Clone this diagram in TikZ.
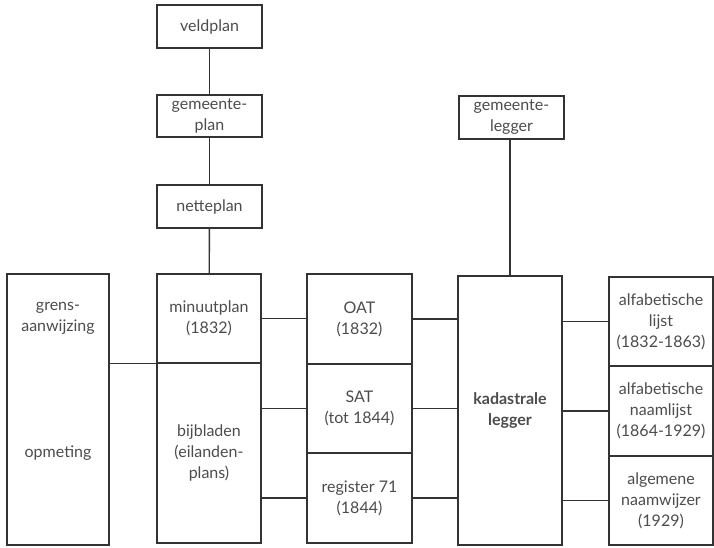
\documentclass[tikz,border=0pt]{standalone}
\usepackage{fontspec}
\setmainfont{Lato}
\begin{document}
\begin{tikzpicture}[x=1pt,y=1pt,
  box/.style={draw=black!80, line width=1.4pt, rectangle, inner sep=0pt, align=center,
    text=black!70, font=\fontsize{16}{21}\selectfont},
  txt/.style={inner sep=0pt, align=center, text=black!70, font=\fontsize{16}{21}\selectfont},
  link/.style={draw=black!80, line width=1.4pt}]
\useasboundingbox (0,0) rectangle (714,547);
% plan column
\node[box, minimum width=105, minimum height=43] (veld) at (209.5,520.5) {veldplan};
\node[box, minimum width=105, minimum height=42] (gplan) at (209.5,431) {gemeente-\\plan};
\node[box, minimum width=105, minimum height=43] (nette) at (209.5,340.5) {netteplan};
% survey box
\node[box, minimum width=102, minimum height=271] (survey) at (58,137.5) {};
\node[txt] (grens) at (58,229) {grens-\\aanwijzing};
\node[txt] (opm) at (58,94) {opmeting};
% minute plans
\node[box, minimum width=104, minimum height=89] (minuut) at (209,228.5) {minuutplan\\(1832)};
\node[box, minimum width=104, minimum height=180] (bij) at (209,94) {bijbladen\\(eilanden-\\plans)};
% tables
\node[box, minimum width=105, minimum height=90] (oat) at (359.5,228) {OAT\\(1832)};
\node[box, minimum width=105, minimum height=89] (sat) at (359.5,138.5) {SAT\\(tot 1844)};
\node[box, minimum width=105, minimum height=90] (reg) at (359.5,49) {register 71\\(1844)};
% ledgers
\node[box, minimum width=104, minimum height=269, font=\fontsize{16}{21}\selectfont\bfseries] (kad) at (510,136.5) {kadastrale\\legger};
\node[box, minimum width=105, minimum height=43] (gleg) at (511.5,429.5) {gemeente-\\legger};
% name indexes
\node[box, minimum width=104, minimum height=89] (alf1) at (661,225.5) {alfabetische\\lijst\\(1832-1863)};
\node[box, minimum width=104, minimum height=90] (alf2) at (661,136) {alfabetische\\naamlijst\\(1864-1929)};
\node[box, minimum width=104, minimum height=89] (alg) at (661,46.5) {algemene\\naamwijzer\\(1929)};
% connectors
\draw[link] (veld) -- (gplan);
\draw[link] (gplan) -- (nette);
\draw[link] (nette) -- (minuut);
\draw[link] (survey.east |- minuut.south) -- (minuut.south west);
\draw[link] (minuut.east) -- (minuut.east -| oat.west);
\draw[link] (sat.west -| bij.east) -- (sat.west);
\draw[link] (reg.west -| bij.east) -- (reg.west);
\draw[link] (oat.east) -- (oat.east -| kad.west);
\draw[link] (sat.east) -- (sat.east -| kad.west);
\draw[link] (reg.east) -- (reg.east -| kad.west);
\draw[link] (alf1.west -| kad.east) -- (alf1.west);
\draw[link] (alf2.west -| kad.east) -- (alf2.west);
\draw[link] (alg.west -| kad.east) -- (alg.west);
\draw[link] (gleg.south -| kad.north) -- (kad.north);
\end{tikzpicture}
\end{document}
